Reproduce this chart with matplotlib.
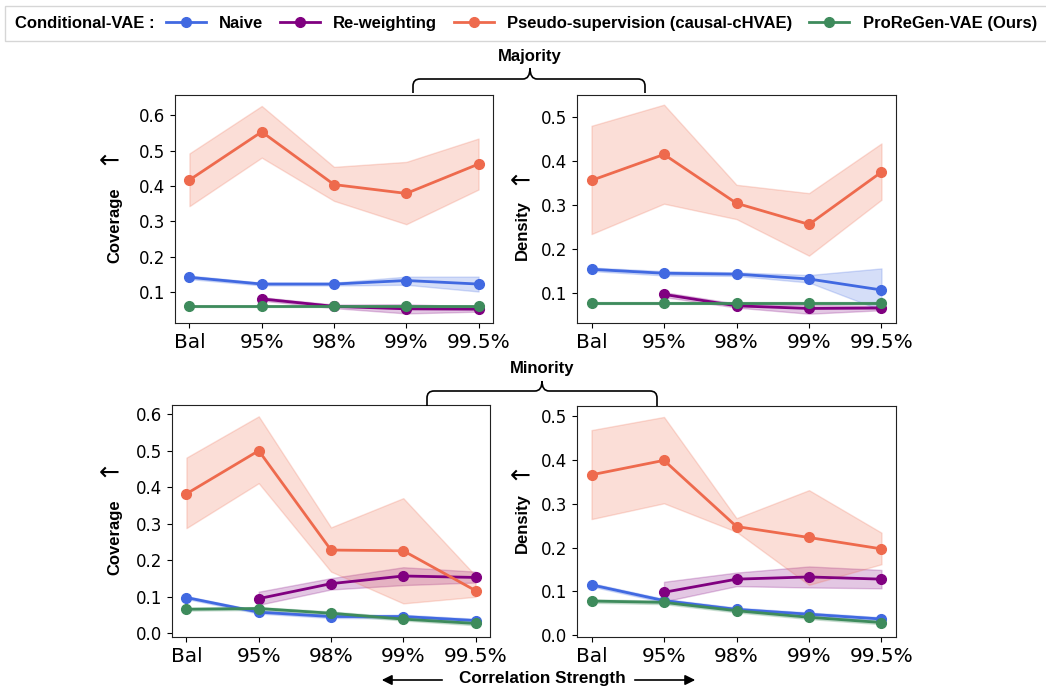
import numpy as np
import matplotlib
matplotlib.use("Agg")
import matplotlib.pyplot as plt
from matplotlib.path import Path
from matplotlib.patches import PathPatch, FancyArrowPatch
from matplotlib.lines import Line2D
from matplotlib.offsetbox import HPacker
from matplotlib.ticker import MultipleLocator

nan = np.nan
categories = ["Bal", "95%", "98%", "99%", "99.5%"]
series_names = ["Naive", "Re-weighting", "Pseudo-supervision (causal-cHVAE)", "ProReGen-VAE (Ours)"]
colors = ["#4169e1", "#800080", "#ee6a4d", "#3e8b5c"]

# Majority - Coverage
maj_cov_naive = [0.142, 0.123, 0.123, 0.133, 0.123]
maj_cov_naive_lo = [0.137, 0.119, 0.119, 0.121, 0.102]
maj_cov_naive_hi = [0.147, 0.127, 0.127, 0.144, 0.144]
maj_cov_rew = [nan, 0.081, 0.060, 0.053, 0.052]
maj_cov_rew_lo = [nan, 0.076, 0.055, 0.040, 0.045]
maj_cov_rew_hi = [nan, 0.086, 0.065, 0.066, 0.060]
maj_cov_pseudo = [0.417, 0.553, 0.404, 0.379, 0.462]
maj_cov_pseudo_lo = [0.343, 0.480, 0.358, 0.292, 0.390]
maj_cov_pseudo_hi = [0.492, 0.626, 0.454, 0.468, 0.534]
maj_cov_ours = [0.060, 0.060, 0.060, 0.060, 0.060]
maj_cov_ours_lo = [0.058, 0.058, 0.058, 0.058, 0.058]
maj_cov_ours_hi = [0.062, 0.062, 0.062, 0.062, 0.062]

# Majority - Density
maj_den_naive = [0.153, 0.144, 0.142, 0.131, 0.106]
maj_den_naive_lo = [0.149, 0.139, 0.138, 0.123, 0.060]
maj_den_naive_hi = [0.157, 0.149, 0.146, 0.140, 0.155]
maj_den_rew = [nan, 0.096, 0.070, 0.064, 0.065]
maj_den_rew_lo = [nan, 0.090, 0.066, 0.052, 0.060]
maj_den_rew_hi = [nan, 0.101, 0.075, 0.072, 0.070]
maj_den_pseudo = [0.355, 0.414, 0.303, 0.255, 0.374]
maj_den_pseudo_lo = [0.233, 0.302, 0.267, 0.184, 0.311]
maj_den_pseudo_hi = [0.479, 0.527, 0.345, 0.326, 0.439]
maj_den_ours = [0.077, 0.077, 0.077, 0.077, 0.077]
maj_den_ours_lo = [0.075, 0.075, 0.075, 0.075, 0.075]
maj_den_ours_hi = [0.079, 0.079, 0.079, 0.079, 0.079]

# Minority - Coverage
min_cov_naive = [0.098, 0.058, 0.046, 0.046, 0.035]
min_cov_naive_lo = [0.094, 0.054, 0.042, 0.041, 0.030]
min_cov_naive_hi = [0.102, 0.062, 0.050, 0.051, 0.040]
min_cov_rew = [nan, 0.095, 0.136, 0.157, 0.153]
min_cov_rew_lo = [nan, 0.078, 0.120, 0.132, 0.139]
min_cov_rew_hi = [nan, 0.114, 0.151, 0.181, 0.169]
min_cov_pseudo = [0.382, 0.500, 0.228, 0.226, 0.117]
min_cov_pseudo_lo = [0.288, 0.411, 0.169, 0.082, 0.100]
min_cov_pseudo_hi = [0.481, 0.594, 0.290, 0.370, 0.158]
min_cov_ours = [0.066, 0.068, 0.055, 0.039, 0.027]
min_cov_ours_lo = [0.062, 0.064, 0.050, 0.035, 0.022]
min_cov_ours_hi = [0.070, 0.072, 0.060, 0.044, 0.032]

# Minority - Density
min_den_naive = [0.115, 0.079, 0.059, 0.048, 0.037]
min_den_naive_lo = [0.111, 0.075, 0.055, 0.044, 0.033]
min_den_naive_hi = [0.119, 0.083, 0.063, 0.052, 0.041]
min_den_rew = [nan, 0.098, 0.128, 0.133, 0.128]
min_den_rew_lo = [nan, 0.077, 0.112, 0.109, 0.107]
min_den_rew_hi = [nan, 0.122, 0.143, 0.157, 0.149]
min_den_pseudo = [0.366, 0.399, 0.248, 0.223, 0.197]
min_den_pseudo_lo = [0.265, 0.301, 0.236, 0.115, 0.162]
min_den_pseudo_hi = [0.468, 0.498, 0.267, 0.331, 0.234]
min_den_ours = [0.078, 0.075, 0.056, 0.041, 0.029]
min_den_ours_lo = [0.074, 0.071, 0.052, 0.037, 0.025]
min_den_ours_hi = [0.082, 0.079, 0.060, 0.045, 0.033]

W, H = 1046, 687
fig = plt.figure(figsize=(W / 100, H / 100), dpi=100)

def axes_px(left, right, top, bottom):
    return fig.add_axes([left / W, 1 - bottom / H, (right - left) / W, (bottom - top) / H])

def fx(x):
    return x / W

def fy(y):
    return 1 - y / H

panels = [
    dict(box=(175, 493, 95, 323), ylim=(0.013, 0.657), ylabel="Coverage", lab=(115, 225), arr=(109, 161),
         data=[(maj_cov_naive, maj_cov_naive_lo, maj_cov_naive_hi),
               (maj_cov_rew, maj_cov_rew_lo, maj_cov_rew_hi),
               (maj_cov_pseudo, maj_cov_pseudo_lo, maj_cov_pseudo_hi),
               (maj_cov_ours, maj_cov_ours_lo, maj_cov_ours_hi)]),
    dict(box=(577, 896, 95, 323), ylim=(0.031, 0.549), ylabel="Density", lab=(522, 230), arr=(520, 181),
         data=[(maj_den_naive, maj_den_naive_lo, maj_den_naive_hi),
               (maj_den_rew, maj_den_rew_lo, maj_den_rew_hi),
               (maj_den_pseudo, maj_den_pseudo_lo, maj_den_pseudo_hi),
               (maj_den_ours, maj_den_ours_lo, maj_den_ours_hi)]),
    dict(box=(172, 490, 405, 637), ylim=(-0.01, 0.625), ylabel="Coverage", lab=(115, 537), arr=(109, 473),
         data=[(min_cov_naive, min_cov_naive_lo, min_cov_naive_hi),
               (min_cov_rew, min_cov_rew_lo, min_cov_rew_hi),
               (min_cov_pseudo, min_cov_pseudo_lo, min_cov_pseudo_hi),
               (min_cov_ours, min_cov_ours_lo, min_cov_ours_hi)]),
    dict(box=(577, 896, 406, 637), ylim=(-0.004, 0.523), ylabel="Density", lab=(522, 523), arr=(520, 476),
         data=[(min_den_naive, min_den_naive_lo, min_den_naive_hi),
               (min_den_rew, min_den_rew_lo, min_den_rew_hi),
               (min_den_pseudo, min_den_pseudo_lo, min_den_pseudo_hi),
               (min_den_ours, min_den_ours_lo, min_den_ours_hi)]),
]

bold = dict(family="Liberation Sans", weight="bold")
x = np.arange(len(categories))
for p in panels:
    ax = axes_px(*p["box"])
    for (m, lo, hi), c in zip(p["data"], colors):
        ax.fill_between(x, lo, hi, color=c, alpha=0.22, linewidth=1)
        ax.plot(x, m, color=c, lw=2, marker="o", markersize=7)
    ax.set_xticks(x)
    ax.set_xticklabels(categories, fontsize=14.5)
    ax.yaxis.set_major_locator(MultipleLocator(0.1))
    ax.tick_params(axis="y", labelsize=12)
    ax.set_ylim(*p["ylim"])
    ax.set_xlim(-0.2, 4.2)
    for s in ax.spines.values():
        s.set_color("#222222")
    fig.text(fx(p["lab"][0]), fy(p["lab"][1]), p["ylabel"], rotation=90, ha="center", va="center",
             fontsize=12, **bold)
    fig.text(fx(p["arr"][0]), fy(p["arr"][1]), "←", ha="center", va="center", fontsize=18,
             family="DejaVu Sans")

def brace(x0, x1, xc, yline, yend, ytip, r=7):
    pts = [(x0, yend), (x0, yline + r), (x0, yline), (x0 + r, yline), (xc - r, yline),
           (xc, yline), (xc, ytip), (xc, yline), (xc + r, yline), (x1 - r, yline),
           (x1, yline), (x1, yline + r), (x1, yend)]
    codes = [Path.MOVETO, Path.LINETO, Path.CURVE3, Path.CURVE3, Path.LINETO,
             Path.CURVE3, Path.CURVE3, Path.CURVE3, Path.CURVE3, Path.LINETO,
             Path.CURVE3, Path.CURVE3, Path.LINETO]
    verts = [(fx(a), fy(b)) for a, b in pts]
    patch = PathPatch(Path(verts, codes), transform=fig.transFigure, fill=False, lw=1.2,
                      edgecolor="black")
    fig.add_artist(patch)

brace(413, 645, 530, 79, 93, 68)
fig.text(fx(530), fy(57), "Majority", ha="center", va="center", fontsize=12, **bold)
brace(427, 657, 542, 391, 406, 381)
fig.text(fx(542), fy(369), "Minority", ha="center", va="center", fontsize=12, **bold)

fig.text(fx(542), fy(679), "Correlation Strength", ha="center", va="center", fontsize=12.3, **bold)
fig.add_artist(FancyArrowPatch((fx(445), fy(680)), (fx(379), fy(680)),
               transform=fig.transFigure, arrowstyle="-|>", mutation_scale=15, lw=1.2, color="black"))
fig.add_artist(FancyArrowPatch((fx(632), fy(680)), (fx(698), fy(680)),
               transform=fig.transFigure, arrowstyle="-|>", mutation_scale=15, lw=1.2, color="black"))

handles = [Line2D([], [], color=c, lw=2, marker="o", markersize=7) for c in colors]
leg = fig.legend(handles, series_names, ncol=4, loc="upper left", bbox_to_anchor=(fx(5), fy(6)),
                 title="Conditional-VAE :", prop=dict(family="Liberation Sans", weight="bold", size=12),
                 title_fontproperties=dict(family="Liberation Sans", weight="bold", size=12),
                 frameon=True, fancybox=False, edgecolor="#cccccc", handlelength=2.4,
                 columnspacing=1.0, handletextpad=0.8, borderpad=0.6, borderaxespad=0)
leg._legend_box.__class__ = HPacker
leg._legend_box.sep = 8
leg._legend_box.align = "center"

fig.savefig("out.png", dpi=100)
